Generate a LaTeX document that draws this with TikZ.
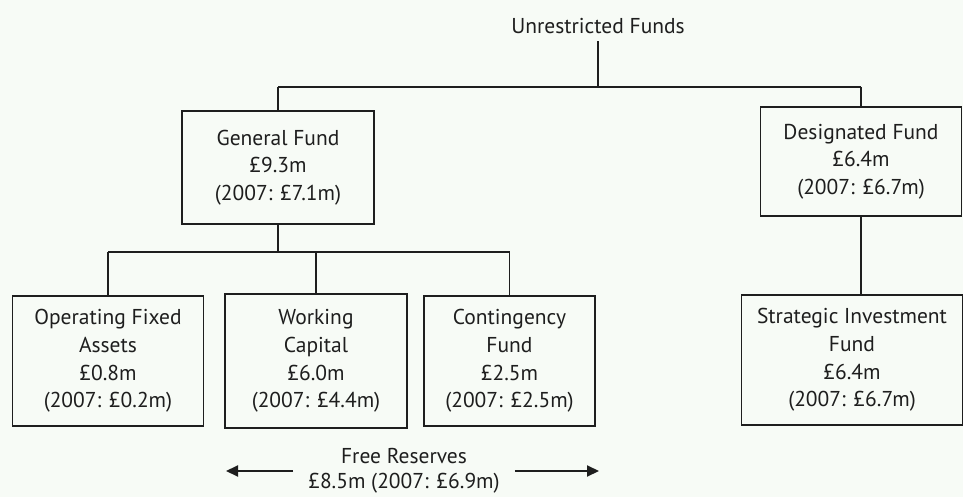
\documentclass[tikz,border=0pt]{standalone}
\usepackage{fontspec}
\setmainfont{PT Sans}
\usetikzlibrary{arrows.meta,calc}
\definecolor{bg}{RGB}{247,251,246}
\definecolor{ink}{RGB}{30,30,30}
\tikzset{
  fundbox/.style={draw=ink, line width=1.8pt, align=center, inner sep=0pt},
  fundtext/.style={font=\fontsize{21.5}{27.7}\selectfont, text=ink},
  link/.style={draw=ink, line width=1.5pt},
  arr/.style={draw=ink, line width=2pt, -{Triangle[length=12pt,width=11pt]}}
}
\begin{document}
\begin{tikzpicture}[x=1pt,y=-1pt]
\fill[bg] (0,0) rectangle (963,497);
\useasboundingbox (0,0) rectangle (963,497);

\node[fundtext] (top) at (598,26) {Unrestricted Funds};

\node[fundbox, fundtext, minimum width=192pt, minimum height=113pt] (gen) at (278,167.5)
  {General Fund\\ £9.3m\\ (2007: £7.1m)};
\node[fundbox, fundtext, minimum width=201pt, minimum height=109pt] (des) at (861,161.5)
  {Designated Fund\\ £6.4m\\ (2007: £6.7m)};

\node[fundbox, fundtext, minimum width=191pt, minimum height=130pt] (ofa) at (108,361)
  {Operating Fixed\\ Assets\\ £0.8m\\ (2007: £0.2m)};
\node[fundbox, fundtext, minimum width=182pt, minimum height=134pt] (wc) at (316,361)
  {Working\\ Capital\\ £6.0m\\ (2007: £4.4m)};
\node[fundbox, fundtext, minimum width=171pt, minimum height=130pt] (cf) at (509.5,361)
  {Contingency\\ Fund\\ £2.5m\\ (2007: £2.5m)};
\node[fundbox, fundtext, minimum width=221pt, minimum height=130pt] (sif) at (852,360)
  {Strategic Investment\\ Fund\\ £6.4m\\ (2007: £6.7m)};

\node[fundtext, align=center, inner xsep=15pt, font=\fontsize{21.5}{25}\selectfont] (fr) at (404,471)
  {Free Reserves\\ £8.5m (2007: £6.9m)};

% top bus
\coordinate (bus1) at (598,87);
\coordinate (busL) at (gen.north |- bus1);
\coordinate (busR) at (des.north |- bus1);
\draw[link] ([yshift=-4pt]top.south) -- (bus1);
\draw[link] (busL) -- (busR);
\draw[link] (busL) -- (gen.north);
\draw[link] (busR) -- (des.north);

% general fund children
\coordinate (bus2) at (gen.south |- 0,252);
\draw[link] (gen.south) -- (bus2);
\draw[link] (ofa.north |- bus2) -- (cf.north |- bus2);
\draw[link] (ofa.north |- bus2) -- (ofa.north);
\draw[link] (wc.north |- bus2) -- (wc.north);
\draw[link] (cf.north |- bus2) -- (cf.north);

% designated to strategic
\draw[link] (des.south) -- (des.south |- sif.north);

% free reserves arrows
\coordinate (la) at (226,471);
\coordinate (ra) at (599,471);
\draw[arr] (fr.west |- la) -- (la);
\draw[arr] (fr.east |- ra) -- (ra);
\end{tikzpicture}
\end{document}
